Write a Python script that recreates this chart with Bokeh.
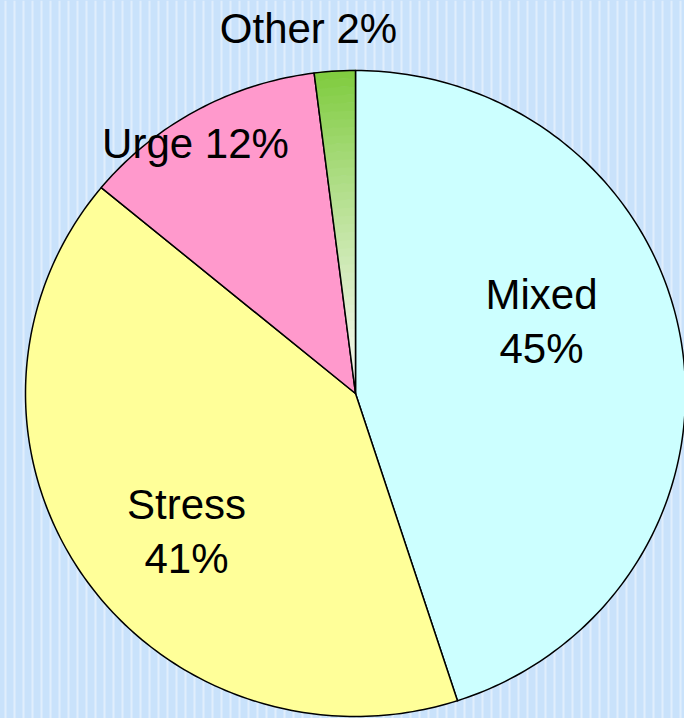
import math
from bokeh.plotting import figure
from bokeh.models import Range1d, ColumnDataSource
from bokeh.core.properties import value
from bokeh.embed import file_html
from bokeh.resources import INLINE

# ---- data ----
categories = ["Mixed", "Stress", "Urge", "Other"]
percents = [45, 41, 12, 2]
labels = ["Mixed\n45%", "Stress\n41%", "Urge 12%", "Other 2%"]
colors = ["#CCFFFF", "#FFFF99", "#FF99CC", "#80CC40"]

# ---- layout (pixel-like coordinates of the picture, y measured downward) ----
W, H = 684, 718
cx, cy_px = 355, 393
RX, RY = 330, 323          # pie is drawn slightly wider than tall
label_px = [(541, 321), (186, 531), (195, 143), (308, 28)]

def Y(py):
    return H - py

p = figure(width=W, height=H, x_range=Range1d(0, W), y_range=Range1d(0, H),
           output_backend="svg", toolbar_location=None, min_border=0)
p.axis.visible = False
p.grid.visible = False
p.outline_line_color = None
p.background_fill_color = "#C9E2FB"
p.border_fill_color = "#C9E2FB"

# textured background
p.quad(left=[0], right=[W], bottom=[0], top=[H], fill_alpha=0, line_alpha=0,
       hatch_pattern="vertical_line", hatch_color="#E6F1FD", hatch_alpha=0.8,
       hatch_scale=9, hatch_weight=2)

cy = Y(cy_px)
total = sum(percents)
bounds = [0.0]
for v in percents:
    bounds.append(bounds[-1] + v / total * 2 * math.pi)

def sector(t1, t2, f_in=0.0, f_out=1.0):
    steps = max(4, int((t2 - t1) / (2 * math.pi) * 360))
    ts = [t1 + (t2 - t1) * k / steps for k in range(steps + 1)]
    xs = [cx + f_out * RX * math.sin(t) for t in ts]
    ys = [cy + f_out * RY * math.cos(t) for t in ts]
    if f_in > 0:
        xs += [cx + f_in * RX * math.sin(t) for t in reversed(ts)]
        ys += [cy + f_in * RY * math.cos(t) for t in reversed(ts)]
    else:
        xs.append(cx)
        ys.append(cy)
    return xs, ys

# solid slices (first three)
xs_l, ys_l = [], []
for i in range(3):
    xs, ys = sector(bounds[i], bounds[i + 1])
    xs_l.append(xs)
    ys_l.append(ys)
p.patches(xs=xs_l, ys=ys_l, fill_color=colors[:3], line_color="black", line_width=1.5,
          line_join="round")

# gradient "Other" slice: radial bands from pale centre to green rim
def lerp(c1, c2, t):
    a = [int(c1[i:i + 2], 16) for i in (1, 3, 5)]
    b = [int(c2[i:i + 2], 16) for i in (1, 3, 5)]
    return "#%02x%02x%02x" % tuple(round(a[k] + (b[k] - a[k]) * t) for k in range(3))

n = 40
gx, gy, gc = [], [], []
for i in range(n):
    xs, ys = sector(bounds[3], bounds[4], i / n, (i + 1) / n + 0.002)
    gx.append(xs)
    gy.append(ys)
    gc.append(lerp("#F6F8F0", colors[3], (i / (n - 1)) ** 1.2))
p.patches(xs=gx, ys=gy, fill_color=gc, line_color=None)
xs, ys = sector(bounds[3], bounds[4])
p.patch(x=xs, y=ys, fill_alpha=0, line_color="black", line_width=1.5, line_join="round")

tsrc = ColumnDataSource(dict(x=[q[0] for q in label_px], y=[Y(q[1]) for q in label_px], text=labels))
p.text(x="x", y="y", text="text", source=tsrc, text_align="center", text_baseline="middle",
       text_font=value("Liberation Sans"), text_font_size="42px", text_color="black",
       text_line_height=1.13)

html = file_html(p, INLINE)
html = html.replace("<head>", "<head><style>html,body{background:#C9E2FB;}</style>", 1)
open("out.html", "w").write(html)
